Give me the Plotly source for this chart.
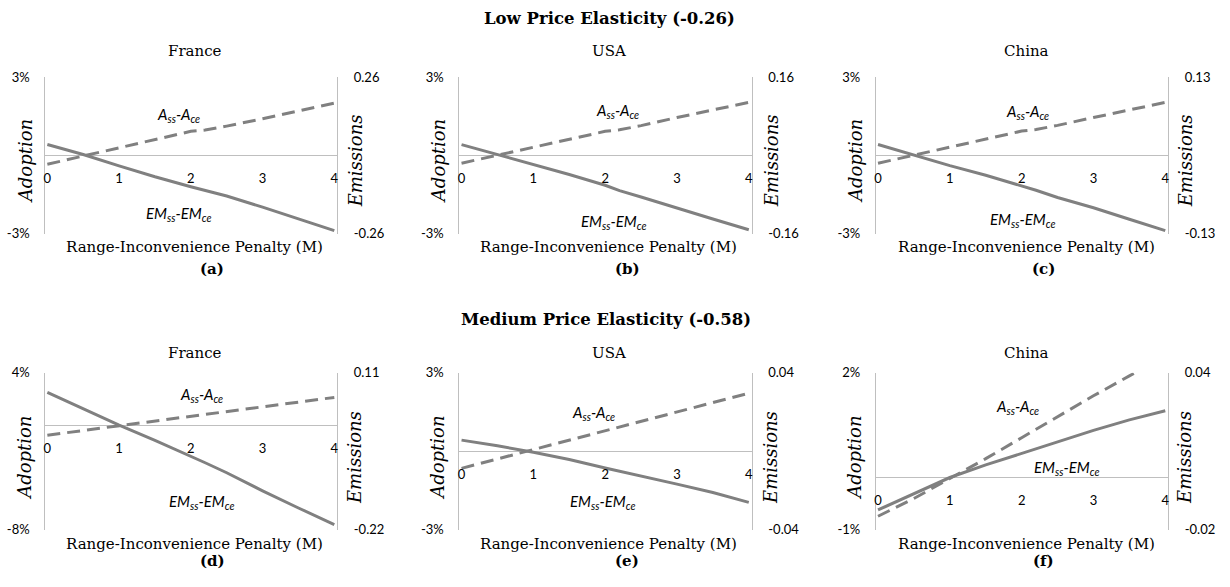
import plotly.graph_objects as go

W, H = 1230, 587

# ---------------- data ----------------
penalty = [0, 0.5, 1, 1.5, 2, 2.2, 2.5, 3, 3.5, 4]

a_adopt = [-0.34, -0.03, 0.28, 0.59, 0.92, 0.97, 1.12, 1.40, 1.70, 2.00]
a_emis = [0.036, 0.003, -0.035, -0.071, -0.104, -0.116, -0.135, -0.172, -0.211, -0.250]
b_adopt = [-0.30, 0.00, 0.30, 0.61, 0.92, 0.98, 1.14, 1.45, 1.75, 2.03]
b_emis = [0.022, 0.002, -0.018, -0.039, -0.061, -0.072, -0.085, -0.108, -0.130, -0.152]
c_adopt = [-0.30, 0.01, 0.31, 0.62, 0.93, 0.99, 1.15, 1.45, 1.74, 2.03]
c_emis = [0.018, 0.000, -0.017, -0.033, -0.050, -0.058, -0.070, -0.087, -0.106, -0.125]
d_adopt = [-0.77, -0.41, -0.04, 0.32, 0.69, 0.83, 1.05, 1.40, 1.76, 2.12]
d_emis = [0.069, 0.034, 0.000, -0.032, -0.065, -0.079, -0.100, -0.138, -0.174, -0.209]
e_adopt = [-0.65, -0.29, 0.06, 0.42, 0.78, 0.92, 1.14, 1.50, 1.86, 2.22]
e_emis = [0.0057, 0.0028, -0.0005, -0.0042, -0.0085, -0.0101, -0.0126, -0.0167, -0.0210, -0.0260]
f_adopt = [-0.74, -0.40, -0.02, 0.36, 0.76, 0.92, 1.16, 1.56, 1.94, 2.32]
f_emis = [-0.0124, -0.0062, 0.0000, 0.0048, 0.0092, 0.0109, 0.0135, 0.0180, 0.0220, 0.0255]

adopt_ranges = [(-3, 3), (-3, 3), (-3, 3), (-8, 4), (-3, 3), (-1, 2)]
adopt_ticktext = [("-3%", "3%"), ("-3%", "3%"), ("-3%", "3%"), ("-8%", "4%"), ("-3%", "3%"), ("-1%", "2%")]
emis_ranges = [(-0.26, 0.26), (-0.16, 0.16), (-0.13, 0.13), (-0.22, 0.11), (-0.04, 0.04), (-0.02, 0.04)]
emis_ticktext = [("-0.26", "0.26"), ("-0.16", "0.16"), ("-0.13", "0.13"), ("-0.22", "0.11"), ("-0.04", "0.04"), ("-0.02", "0.04")]
x_ticks = [0, 1, 2, 3, 4]
x_ticktext = ["0", "1", "2", "3", "4"]

countries = ["France", "USA", "China", "France", "USA", "China"]
panel_letters = ["(a)", "(b)", "(c)", "(d)", "(e)", "(f)"]
row_titles = ["Low Price Elasticity (-0.26)", "Medium Price Elasticity (-0.58)"]
x_title = "Range-Inconvenience Penalty (M)"
adopt_label = "A<sub>ss</sub>-A<sub>ce</sub>"
emis_label = "EM<sub>ss</sub>-EM<sub>ce</sub>"

adopts = [a_adopt, b_adopt, c_adopt, d_adopt, e_adopt, f_adopt]
emiss = [a_emis, b_emis, c_emis, d_emis, e_emis, f_emis]

# ---------------- layout geometry (pixels) ----------------
cols = [(43.3, 336.0), (458.5, 751.5), (876.0, 1169.0)]
rows = [(71.0, 232.0), (375.0, 536.5)]
col_center = [193, 608, 1027]
letter_x = [211, 627, 1044]
adopt_title_x = [23, 437, 855]
emis_title_x = [354, 771, 1186]
row_title_pos = [(609, 11), (605, 320)]
country_y = [44, 355]
xtitle_y = [246, 551]
letter_y = [268, 569]
axis_title_y = [157.5, 462.5]
adopt_lbl_pos = [(177, 110), (617, 106), (1028, 107), (200, 398), (593, 416), (1018, 410)]
emis_lbl_pos = [(177, 212), (613, 220), (1023, 218), (200, 508), (602, 508), (1067, 473)]

SERIF = "DejaVu Serif"
SANS = "Lato"
LINE = "#808080"
AXIS = "#BFBFBF"


def px(x):
    return x / W


def py(y):
    return 1 - y / H


fig = go.Figure()
layout = dict(
    width=W, height=H, autosize=False,
    margin=dict(l=0, r=0, t=0, b=0),
    paper_bgcolor="white", plot_bgcolor="white",
    showlegend=False,
)
annotations = []


def ann(text, x, y, font, angle=0):
    annotations.append(dict(
        text=text, x=px(x), y=py(y), xref="paper", yref="paper",
        xanchor="center", yanchor="middle", showarrow=False,
        textangle=angle, font=font))


for i in range(6):
    r, c = divmod(i, 3)
    n = i + 1
    xa = "x" if n == 1 else f"x{n}"
    yl_id = 2 * i + 1
    yr_id = 2 * i + 2
    yl = "y" if yl_id == 1 else f"y{yl_id}"
    yr = f"y{yr_id}"

    x0, x1 = cols[c]
    ytop, ybot = rows[r]
    ydom = [py(ybot), py(ytop)]
    lo, hi = adopt_ranges[i]
    zero_paper = ydom[0] + (0 - lo) / (hi - lo) * (ydom[1] - ydom[0])

    fig.add_trace(go.Scatter(
        x=penalty, y=adopts[i], xaxis=xa, yaxis=yl, mode="lines",
        line=dict(color=LINE, width=3, dash="13px,7px"), hoverinfo="skip"))
    fig.add_trace(go.Scatter(
        x=penalty, y=emiss[i], xaxis=xa, yaxis=yr, mode="lines",
        line=dict(color=LINE, width=3), hoverinfo="skip"))

    layout["xaxis" if n == 1 else f"xaxis{n}"] = dict(
        domain=[px(x0), px(x1)], range=[-0.03, 4.04],
        anchor="free", position=zero_paper,
        showline=False, showgrid=False, zeroline=False,
        tickvals=x_ticks, ticktext=x_ticktext,
        ticks="outside", ticklen=11, tickcolor="rgba(0,0,0,0)",
        tickfont=dict(family=SANS, size=13, color="black"),
        fixedrange=True,
    )
    layout["yaxis" if yl_id == 1 else f"yaxis{yl_id}"] = dict(
        domain=ydom, range=[lo, hi], anchor=xa, side="left",
        showline=True, linecolor=AXIS, linewidth=1,
        showgrid=False, zeroline=True, zerolinecolor=AXIS, zerolinewidth=1,
        tickvals=[lo, hi], ticktext=list(adopt_ticktext[i]),
        ticks="outside", ticklen=12, tickcolor="rgba(0,0,0,0)",
        tickfont=dict(family=SANS, size=13, color="black"),
        fixedrange=True,
    )
    elo, ehi = emis_ranges[i]
    layout[f"yaxis{yr_id}"] = dict(
        domain=ydom, range=[elo, ehi], anchor=xa, side="right",
        overlaying=yl,
        showline=True, linecolor=AXIS, linewidth=1,
        showgrid=False, zeroline=False,
        tickvals=[elo, ehi], ticktext=list(emis_ticktext[i]),
        ticks="outside", ticklen=13, tickcolor="rgba(0,0,0,0)",
        tickfont=dict(family=SANS, size=13, color="black"),
        fixedrange=True,
    )

    ann(countries[i], col_center[c], country_y[r], dict(family=SERIF, size=15, color="black"))
    ann(x_title, col_center[c], xtitle_y[r], dict(family=SERIF, size=15, color="black"))
    ann("<b>" + panel_letters[i] + "</b>", letter_x[c], letter_y[r], dict(family=SERIF, size=15, color="black"))
    ann("<i>Adoption</i>", adopt_title_x[c], axis_title_y[r], dict(family=SERIF, size=18, color="black"), -90)
    ann("<i>Emissions</i>", emis_title_x[c], axis_title_y[r], dict(family=SERIF, size=18, color="black"), -90)
    ann("<i>" + adopt_label + "</i>", adopt_lbl_pos[i][0], adopt_lbl_pos[i][1], dict(family=SANS, size=15, color="black"))
    ann("<i>" + emis_label + "</i>", emis_lbl_pos[i][0], emis_lbl_pos[i][1], dict(family=SANS, size=15, color="black"))

for k in range(2):
    ann("<b>" + row_titles[k] + "</b>", row_title_pos[k][0], row_title_pos[k][1],
        dict(family=SERIF, size=16.5, color="black"))

layout["annotations"] = annotations
fig.update_layout(**layout)
js = """
document.body.style.margin='0';
document.documentElement.style.overflow='hidden';
document.body.style.overflow='hidden';
"""
fig.write_html("out.html", config={"displayModeBar": False}, post_script=js)
